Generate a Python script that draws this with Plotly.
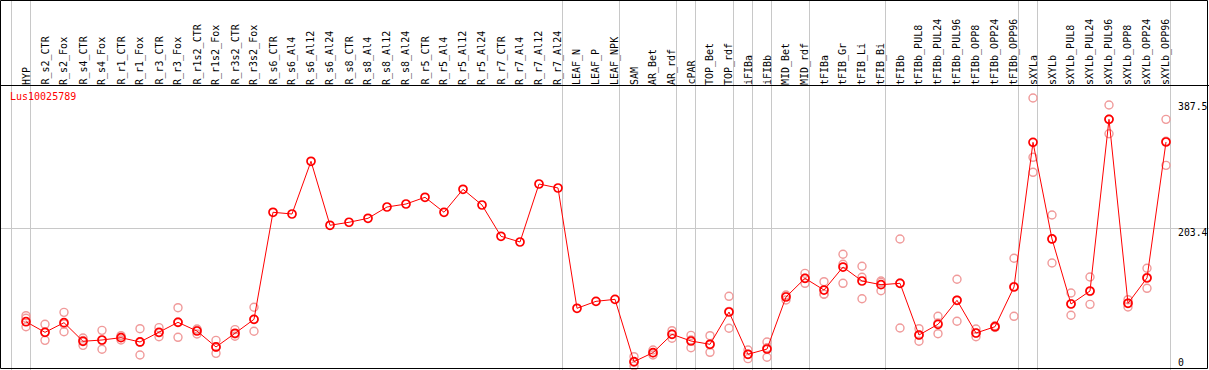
import plotly.graph_objects as go

# ---------------- data ----------------
gene_id = "Lus10025789"

categories = [
    "HYP", "R_s2_CTR", "R_s2_Fox", "R_s4_CTR", "R_s4_Fox", "R_r1_CTR", "R_r1_Fox",
    "R_r3_CTR", "R_r3_Fox", "R_r1s2_CTR", "R_r1s2_Fox", "R_r3s2_CTR", "R_r3s2_Fox",
    "R_s6_CTR", "R_s6_Al4", "R_s6_Al12", "R_s6_Al24", "R_s8_CTR", "R_s8_Al4",
    "R_s8_Al12", "R_s8_Al24", "R_r5_CTR", "R_r5_Al4", "R_r5_Al12", "R_r5_Al24",
    "R_r7_CTR", "R_r7_Al4", "R_r7_Al12", "R_r7_Al24", "LEAF_N", "LEAF_P", "LEAF_NPK",
    "SAM", "AR_Bet", "AR_rdf", "cPAR", "TOP_Bet", "TOP_rdf", "iFIBa", "iFIBb",
    "MID_Bet", "MID_rdf", "tFIBa", "tFIB_Gr", "tFIB_Li", "tFIB_Bi", "tFIBb",
    "tFIBb_PUL8", "tFIBb_PUL24", "tFIBb_PUL96", "tFIBb_OPP8", "tFIBb_OPP24",
    "tFIBb_OPP96", "sXYLa", "sXYLb", "sXYLb_PUL8", "sXYLb_PUL24", "sXYLb_PUL96",
    "sXYLb_OPP8", "sXYLb_OPP24", "sXYLb_OPP96",
]

mean_values = [
    66.9, 51.4, 65.5, 38.3, 40.2, 43.6, 37.3, 51.4, 66.0, 53.3, 30.0, 50.0, 70.4,
    226.8, 224.3, 301.3, 207.8, 212.2, 218.0, 234.5, 238.9, 248.7, 226.8, 260.4, 237.4,
    191.7, 183.4, 268.1, 262.3, 86.5, 96.7, 99.6,
    8.5, 21.7, 48.5, 38.7, 33.9, 81.1, 19.3, 27.0, 103.0, 130.3, 113.2, 146.8, 126.4,
    121.0, 123.0, 47.5, 63.1, 98.2, 50.4, 59.6, 117.6, 329.0, 187.8, 92.8, 111.8,
    362.6, 93.8, 130.8, 329.5,
]

replicate_values = [
    [75.7, 71.9, 59.6], [63.1, 39.7, 51.4], [80.6, 52.3, 63.5], [43.1, 32.4, 39.5],
    [54.3, 26.6, 39.7], [46.5, 40.2, 44.0], [56.7, 18.3, 37.0], [58.2, 45.0, 51.0],
    [87.4, 44.1, 66.5], [56.3, 49.0, 54.6], [39.7, 20.7, 29.6], [55.3, 45.6, 49.1],
    [88.0, 52.9, 70.3],
    [], [], [], [], [], [], [], [], [], [], [], [], [], [], [], [], [], [], [],
    [15.8, 2.2, 7.5], [25.6, 18.3, 21.2], [53.8, 42.7, 49.0], [47.0, 28.9, 40.2],
    [46.5, 22.2, 33.0], [104.0, 57.3, 82.0], [25.6, 12.9, 19.4], [37.3, 14.9, 28.8],
    [105.9, 98.6, 104.5], [137.6, 123.0, 130.3], [125.4, 107.0, 107.2],
    [165.4, 150.8, 123.0], [147.9, 131.8, 100.5], [126.4, 112.2, 124.4],
    [187.8, 57.7, 123.5], [56.7, 38.3, 47.5], [74.8, 49.4, 65.1], [128.9, 67.5, 98.2],
    [56.3, 45.0, 50.0], [61.0, 58.5, 59.3], [159.6, 74.8, 118.4],
    [393.8, 307.1, 285.2], [222.8, 152.7, 188.0], [108.9, 76.3, 93.2],
    [132.2, 92.3, 111.0], [383.5, 341.6, 362.7], [99.1, 88.4, 94.0],
    [145.0, 115.7, 131.7], [362.6, 295.4, 330.5],
]

# index of the last category of each group (separator drawn after it)
group_end_index = [-1, 0, 28, 31, 34, 35, 37, 38, 39, 41, 45, 52, 53, 60]

y_tick_values = [0, 203.4, 387.5]
y_tick_labels = ["0", "203.4", "387.5"]
y_grid_values = [203.4]

# ---------------- layout geometry ----------------
W, H = 1209, 370
px_per_cat = 19.0
first_cat_px = 26.0
x_min = -first_cat_px / px_per_cat
x_max = x_min + W / px_per_cat
px_per_unit = 0.6844
zero_px = 367.5
y_min = -(H - zero_px) / px_per_unit
y_max = y_min + H / px_per_unit

FONT = "DejaVu Sans Mono"
MEAN_COLOR = "#ff0000"
REP_COLOR = "#f09a9a"
GRID = "#c8c8c8"

x_idx = list(range(len(categories)))
rep_x, rep_y = [], []
for i, reps in enumerate(replicate_values):
    for v in reps:
        rep_x.append(i)
        rep_y.append(v)

fig = go.Figure()
fig.add_trace(go.Scatter(
    x=rep_x, y=rep_y, mode="markers",
    marker=dict(symbol="circle-open", size=8, color=REP_COLOR, line=dict(width=1.4, color=REP_COLOR)),
    hoverinfo="skip", showlegend=False,
))
fig.add_trace(go.Scatter(
    x=x_idx, y=mean_values, mode="lines+markers",
    line=dict(color=MEAN_COLOR, width=1),
    marker=dict(symbol="circle-open", size=8, color=MEAN_COLOR, line=dict(width=1.7, color=MEAN_COLOR)),
    text=categories, showlegend=False,
))

annotations = []
header_px = 85.5
for i, c in enumerate(categories):
    annotations.append(dict(
        x=i, xref="x", y=1 - (header_px - 0.5) / H, yref="paper",
        text=c, textangle=-90, showarrow=False, xanchor="center", yanchor="bottom",
        font=dict(family=FONT, size=10, color="black"), borderpad=0, borderwidth=0,
    ))
for v, t in zip(y_tick_values, y_tick_labels):
    shift = 5.5 if v == 0 else -4
    annotations.append(dict(
        x=1178 / W, xref="paper", y=v, yref="y", text=t, showarrow=False,
        xanchor="left", yanchor="middle", yshift=shift, borderpad=0, borderwidth=0,
        font=dict(family=FONT, size=9.8, color="black"),
    ))
annotations.append(dict(
    x=10 / W, xref="paper", y=1 - 96 / H, yref="paper", text=gene_id, showarrow=False,
    xanchor="left", yanchor="middle", borderpad=0, borderwidth=0,
    font=dict(family=FONT, size=10, color=MEAN_COLOR),
))

shapes = [
    dict(type="line", xref="paper", yref="paper", x0=0, x1=1,
         y0=1 - header_px / H, y1=1 - header_px / H, line=dict(color="black", width=1)),
    dict(type="rect", xref="paper", yref="paper", x0=0.5 / W, x1=1207.5 / W,
         y0=1 - 368.5 / H, y1=1 - 0.5 / H, line=dict(color="black", width=1)),
]

fig.update_layout(
    width=W, height=H, margin=dict(l=0, r=0, t=0, b=0),
    paper_bgcolor="white", plot_bgcolor="white",
    xaxis=dict(range=[x_min, x_max], tickvals=[g + 0.25 for g in group_end_index],
               showgrid=True, gridcolor=GRID, gridwidth=1, showticklabels=False,
               zeroline=False, showline=False, ticks=""),
    yaxis=dict(range=[y_min, y_max], tickvals=y_grid_values, showgrid=True,
               gridcolor=GRID, gridwidth=1, showticklabels=False, zeroline=False,
               showline=False, ticks=""),
    annotations=annotations, shapes=shapes, showlegend=False,
)

fig.write_html(
    "out.html",
    config={"displayModeBar": False},
    post_script="document.body.style.margin='0';document.body.style.overflow='hidden';",
)
